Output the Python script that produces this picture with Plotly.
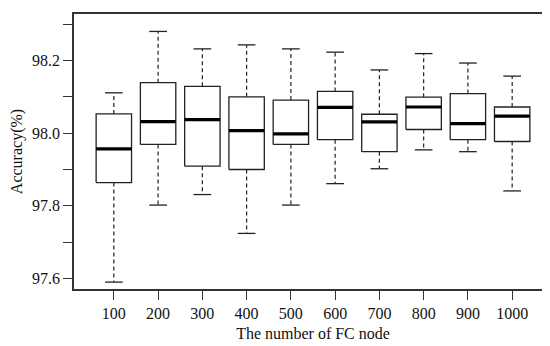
import plotly.graph_objects as go

categories = ["100", "200", "300", "400", "500", "600", "700", "800", "900", "1000"]
lower_whisker = [97.590, 97.802, 97.831, 97.724, 97.802, 97.861, 97.902, 97.954, 97.949, 97.841]
q1 = [97.864, 97.969, 97.909, 97.900, 97.969, 97.982, 97.949, 98.010, 97.982, 97.977]
median = [97.957, 98.032, 98.037, 98.007, 97.998, 98.071, 98.031, 98.072, 98.026, 98.047]
q3 = [98.053, 98.139, 98.129, 98.100, 98.091, 98.115, 98.052, 98.099, 98.109, 98.072]
upper_whisker = [98.111, 98.280, 98.232, 98.243, 98.232, 98.223, 98.174, 98.219, 98.193, 98.157]
y_tick_vals = [97.6, 97.7, 97.8, 97.9, 98.0, 98.1, 98.2, 98.3]
y_tick_text = ["97.6", "", "97.8", "", "98.0", "", "98.2", ""]

BOX_HALF = 0.4
CAP_HALF = 0.2
LINE = "#222222"

xs = list(range(1, len(categories) + 1))

bx, by = [], []
mx, my = [], []
wx, wy = [], []
cx, cy = [], []
for i, x in enumerate(xs):
    bx += [x - BOX_HALF, x + BOX_HALF, x + BOX_HALF, x - BOX_HALF, x - BOX_HALF, None]
    by += [q1[i], q1[i], q3[i], q3[i], q1[i], None]
    mx += [x - BOX_HALF, x + BOX_HALF, None]
    my += [median[i], median[i], None]
    wx += [x, x, None, x, x, None]
    wy += [q3[i], upper_whisker[i], None, q1[i], lower_whisker[i], None]
    cx += [x - CAP_HALF, x + CAP_HALF, None, x - CAP_HALF, x + CAP_HALF, None]
    cy += [upper_whisker[i], upper_whisker[i], None, lower_whisker[i], lower_whisker[i], None]

fig = go.Figure()
fig.add_trace(go.Scatter(x=wx, y=wy, mode="lines", line=dict(color=LINE, width=1.2, dash="4px,3px"),
                         hoverinfo="skip", showlegend=False))
fig.add_trace(go.Scatter(x=cx, y=cy, mode="lines", line=dict(color=LINE, width=1.3),
                         hoverinfo="skip", showlegend=False))
fig.add_trace(go.Scatter(x=bx, y=by, mode="lines", line=dict(color=LINE, width=1.3),
                         fill="toself", fillcolor="white", showlegend=False))
fig.add_trace(go.Scatter(x=mx, y=my, mode="lines", line=dict(color="#000000", width=3.2),
                         showlegend=False))

font_family = "Liberation Serif"
tfont = dict(family=font_family, size=16, color="#111111")
fig.update_layout(
    width=550, height=346,
    margin=dict(l=66, r=6, t=6, b=65),
    paper_bgcolor="white", plot_bgcolor="white",
    font=dict(family=font_family, size=16, color="#111111"),
    xaxis=dict(range=[0.1, 10.9], tickvals=xs, ticktext=categories, tickfont=tfont,
               automargin=False,
               showgrid=False, zeroline=False, showline=True, mirror=True,
               linecolor="#333333", linewidth=1.5,
               ticks="outside", ticklen=9, tickwidth=1.3, tickcolor="#333333",
               title=dict(text="The number of FC node", standoff=7, font=tfont)),
    yaxis=dict(range=[97.571, 98.328], tickvals=y_tick_vals, ticktext=y_tick_text, tickfont=tfont,
               automargin=False,
               showgrid=False, zeroline=False, showline=True, mirror=True,
               linecolor="#333333", linewidth=1.5,
               ticks="outside", ticklen=9, tickwidth=1.3, tickcolor="#333333",
               title=dict(text="Accuracy(%)", standoff=10, font=tfont)),
)

fig.write_html("out.html")
